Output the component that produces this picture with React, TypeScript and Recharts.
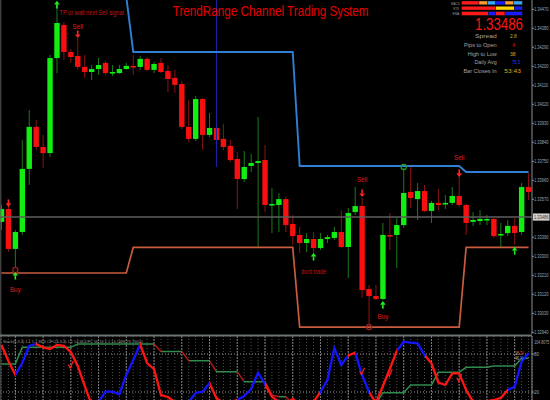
import React from 'react';
import { ComposedChart, Bar, Line, XAxis, YAxis, ReferenceLine, Scatter, CartesianGrid } from 'recharts';

// ---------- price candles (one per bar) ----------
const opens = [1.33463, 1.33524, 1.33335, 1.33415, 1.33714, 1.33913, 1.33818, 1.33789, 1.34239, 1.34396,
  1.34268, 1.34249, 1.34197, 1.34173, 1.34187, 1.34216, 1.34168, 1.34168, 1.34187, 1.34202,
  1.34197, 1.34235, 1.34183, 1.34216, 1.34178, 1.34145, 1.34116, 1.33913, 1.33856, 1.34045,
  1.33875, 1.33908, 1.33856, 1.33823, 1.33761, 1.33666, 1.33728, 1.33742, 1.33756, 1.33543,
  1.33543, 1.33571, 1.33453, 1.33401, 1.33363, 1.33382, 1.33339, 1.33382, 1.33387, 1.33415,
  1.33344, 1.33510, 1.33538, 1.33145, 1.33112, 1.33098, 1.33401, 1.33401, 1.33448, 1.33605,
  1.33571, 1.33609, 1.33515, 1.33553, 1.33548, 1.33553, 1.33586, 1.33543, 1.33463, 1.33467,
  1.33472, 1.33477, 1.33401, 1.33410, 1.33444, 1.33415, 1.33628];
const closes = [1.33524, 1.33335, 1.33415, 1.33714, 1.33913, 1.33818, 1.33789, 1.34239, 1.34405, 1.34268,
  1.34244, 1.34197, 1.34173, 1.34187, 1.34206, 1.34168, 1.34173, 1.34187, 1.34202, 1.34194,
  1.34235, 1.34183, 1.34211, 1.34173, 1.34140, 1.34112, 1.33913, 1.33856, 1.34045, 1.33875,
  1.33908, 1.33851, 1.33818, 1.33756, 1.33666, 1.33723, 1.33742, 1.33751, 1.33543, 1.33548,
  1.33571, 1.33448, 1.33396, 1.33363, 1.33382, 1.33339, 1.33382, 1.33391, 1.33415, 1.33344,
  1.33505, 1.33538, 1.33140, 1.33112, 1.33098, 1.33401, 1.33396, 1.33448, 1.33600, 1.33576,
  1.33609, 1.33515, 1.33553, 1.33543, 1.33553, 1.33586, 1.33543, 1.33458, 1.33472, 1.33477,
  1.33477, 1.33396, 1.33406, 1.33444, 1.33410, 1.33628, 1.33605];
const highs = [1.33543, 1.33543, 1.33425, 1.33851, 1.33993, 1.33946, 1.33875, 1.34254, 1.34505, 1.34410,
  1.34282, 1.34334, 1.34254, 1.34206, 1.34239, 1.34225, 1.34206, 1.34206, 1.34216, 1.34254,
  1.34249, 1.34244, 1.34220, 1.34239, 1.34206, 1.34183, 1.34130, 1.34040, 1.34059, 1.34050,
  1.33979, 1.33922, 1.33927, 1.33851, 1.33794, 1.33799, 1.33785, 1.33960, 1.33827, 1.33624,
  1.33600, 1.33581, 1.33496, 1.33439, 1.33410, 1.33415, 1.33410, 1.33401, 1.33439, 1.33519,
  1.33529, 1.33628, 1.33576, 1.33164, 1.33164, 1.33458, 1.33505, 1.33481, 1.33718, 1.33733,
  1.33647, 1.33638, 1.33562, 1.33619, 1.33590, 1.33628, 1.33695, 1.33548, 1.33510, 1.33519,
  1.33496, 1.33481, 1.33458, 1.33472, 1.33481, 1.33647, 1.33695];
const lows = [1.33425, 1.33320, 1.33245, 1.33401, 1.33638, 1.33804, 1.33718, 1.33770, 1.34168, 1.34230,
  1.34216, 1.34183, 1.34145, 1.34135, 1.34159, 1.34159, 1.34154, 1.34164, 1.34183, 1.34159,
  1.34183, 1.34178, 1.34168, 1.34168, 1.34078, 1.34074, 1.33903, 1.33841, 1.33846, 1.33804,
  1.33865, 1.33837, 1.33804, 1.33747, 1.33524, 1.33652, 1.33699, 1.33339, 1.33510, 1.33410,
  1.33415, 1.33415, 1.33354, 1.33316, 1.33320, 1.33316, 1.33330, 1.33363, 1.33377, 1.33339,
  1.33197, 1.33496, 1.33103, 1.32970, 1.33093, 1.33093, 1.33330, 1.33245, 1.33434, 1.33529,
  1.33472, 1.33510, 1.33458, 1.33519, 1.33524, 1.33543, 1.33534, 1.33401, 1.33444, 1.33448,
  1.33448, 1.33387, 1.33344, 1.33396, 1.33354, 1.33401, 1.33567];

// ---------- TrendRange channel ----------
const upperChannel = [1.34528, 1.34528, 1.34528, 1.34528, 1.34528, 1.34528, 1.34528, 1.34528, 1.34528, 1.34528,
  1.34528, 1.34528, 1.34528, 1.34528, 1.34528, 1.34528, 1.34528, 1.34528, 1.34528, 1.34268,
  1.34268, 1.34268, 1.34268, 1.34268, 1.34268, 1.34268, 1.34268, 1.34268, 1.34268, 1.34268,
  1.34268, 1.34268, 1.34268, 1.34268, 1.34268, 1.34268, 1.34268, 1.34268, 1.34268, 1.34268,
  1.34268, 1.34268, 1.34268, 1.33728, 1.33728, 1.33728, 1.33728, 1.33728, 1.33728, 1.33728,
  1.33728, 1.33728, 1.33728, 1.33728, 1.33728, 1.33728, 1.33728, 1.33728, 1.33728, 1.33728,
  1.33728, 1.33728, 1.33728, 1.33728, 1.33728, 1.33728, 1.33728, 1.33699, 1.33699, 1.33699,
  1.33699, 1.33699, 1.33699, 1.33699, 1.33699, 1.33699, 1.33699];
const lowerChannel = [1.33221, 1.33221, 1.33221, 1.33221, 1.33221, 1.33221, 1.33221, 1.33221, 1.33221, 1.33221,
  1.33221, 1.33221, 1.33221, 1.33221, 1.33221, 1.33221, 1.33221, 1.33221, 1.33221, 1.33342,
  1.33342, 1.33342, 1.33342, 1.33342, 1.33342, 1.33342, 1.33342, 1.33342, 1.33342, 1.33342,
  1.33342, 1.33342, 1.33342, 1.33342, 1.33342, 1.33342, 1.33342, 1.33342, 1.33342, 1.33342,
  1.33342, 1.33342, 1.33342, 1.32965, 1.32965, 1.32965, 1.32965, 1.32965, 1.32965, 1.32965,
  1.32965, 1.32965, 1.32965, 1.32965, 1.32965, 1.32965, 1.32965, 1.32965, 1.32965, 1.32965,
  1.32965, 1.32965, 1.32965, 1.32965, 1.32965, 1.32965, 1.32965, 1.33342, 1.33342, 1.33342,
  1.33342, 1.33342, 1.33342, 1.33342, 1.33342, 1.33342, 1.33342];

const currentPrice = 1.33486;
const separatorIndex = 31;
const separatorTop = 1.34514;
const separatorBottom = 1.33723;
const priceTicks = [1.34470, 1.34380, 1.34290, 1.34200, 1.34110, 1.34020, 1.33930, 1.33840, 1.33750,
  1.33660, 1.33570, 1.33390, 1.33300, 1.33210, 1.33120, 1.33030, 1.32940];

const sellArrows = [{ i: 1, price: 1.33534 }, { i: 11, price: 1.34334 }, { i: 52, price: 1.33581 }, { i: 66, price: 1.33676 }];
const buyArrows = [{ i: 2, price: 1.33226 }, { i: 8, price: 1.34510 }, { i: 45, price: 1.33316 }, { i: 55, price: 1.33088 }, { i: 74, price: 1.33344 }];
const signalRings = [{ i: 2, price: 1.33235, side: 'sell' }, { i: 53, price: 1.32965, side: 'sell' }, { i: 58, price: 1.33723, side: 'buy' }];
const chartNotes = [
  { i: 13, price: 1.34441, text: 'TP or wait next Sell signal', kind: 'note' },
  { i: 11, price: 1.34379, text: 'Sell', kind: 'label' },
  { i: 52, price: 1.33650, text: 'Sell', kind: 'label' },
  { i: 66, price: 1.33754, text: 'Sell', kind: 'label' },
  { i: 2, price: 1.33129, text: 'Buy', kind: 'label' },
  { i: 55, price: 1.33001, text: 'Buy', kind: 'label' },
  { i: 45, price: 1.33214, text: 'dont trade', kind: 'note' },
];

// ---------- Stochastic sub-window ----------
const stochMain = [94.2, 68.9, 47.0, 65.8, 92.6, 95.7, 90.5, 88.0, 94.2, 93.0,
  83.1, 61.0, 29.5, 0.0, 4.3, 20.5, 20.5, 16.5, 47.0, 70.5,
  95.0, 65.8, 56.0, 15.3, 12.1, 4.3, 0.0, 4.3, 18.5, 20.5,
  33.8, 10.1, 2.7, 4.3, 7.4, 13.7, 24.8, 50.5, 32.6, 12.6,
  4.3, 1.1, 9.0, 1.1, 0.0, 4.3, 20.0, 39.0, 89.0, 62.6,
  77.6, 82.0, 46.8, 20.0, 2.7, 29.5, 56.3, 84.7, 99.4, 97.8,
  96.8, 78.4, 65.3, 35.0, 31.1, 49.5, 49.5, 23.2, 4.7, 1.1,
  5.8, 7.4, 10.6, 23.2, 28.4, 67.8, 81.5];
const stochSignal = [64.2, 64.2, 64.2, 90.5, 90.5, 90.5, 90.5, 90.5, 90.5, 90.5,
  90.5, 95.7, 95.7, 95.7, 95.7, 95.7, 95.7, 95.7, 95.7, 95.7,
  95.7, 95.7, 95.7, 84.0, 84.0, 84.0, 84.0, 69.4, 69.4, 69.4,
  69.4, 52.1, 52.1, 52.1, 52.1, 36.3, 36.3, 36.3, 36.3, 15.3,
  12.6, 12.6, 1.1, 1.1, 1.1, 1.1, 1.1, 1.1, 1.1, 1.1,
  1.1, 1.1, 1.1, 1.1, 1.1, 18.9, 18.9, 18.9, 18.9, 31.1,
  31.1, 31.1, 31.1, 51.1, 51.1, 51.1, 51.1, 59.0, 59.0, 59.0,
  59.0, 61.0, 61.0, 61.0, 61.0, 73.2, 73.2];
// colour of each main-line segment as drawn: u = blue, d = red
const stochMainTrend = 'dduuudddddddduuuuuuudddddduuuudddduuuudddddddduuuuduudddduuuudddddddddddduuuuuuu';
const stochLevels = [80, 20];
const stochMajorGrid = [2, 6, 10, 14, 18, 22, 26, 30, 34, 38, 42, 46, 50, 54, 58, 62, 66, 70, 74];
const stochChecks = [{ i: 10, v: 62.6 }, { i: 52, v: 52.1 }, { i: 56, v: 49.5 }, { i: 66, v: 41.6 }];

const candleIdx = opens.map((_, i) => i);
const candleData = opens.map((o, i) => ({
  i, open: o, close: closes[i], high: highs[i], low: lows[i],
  range: [lows[i], highs[i]], upper: upperChannel[i], lower: lowerChannel[i],
}));
const stochData = stochMain.map((v, i) => ({ i, main: v, signal: stochSignal[i] }));

const FONT = "'Liberation Sans', Arial, sans-serif";
const SX = 0.78;
const AXIS_GRAY = '#8c8c8c';
const LABEL_GRAY = '#a4a4a4';

// Arial / Liberation Sans advance widths (per 1000 em) for width fitting
const CW: Record<string, number> = {
  ' ': 278, '.': 278, ',': 278, ':': 278, '-': 333, '(': 333, ')': 333,
  A: 667, B: 667, C: 722, D: 722, E: 667, F: 611, H: 722, I: 278, L: 556, M: 833, O: 778, P: 667, R: 722, S: 667, T: 611,
  a: 556, c: 500, d: 556, e: 556, g: 556, h: 556, i: 222, k: 500, l: 222, m: 833, n: 556, o: 556, p: 556,
  r: 333, s: 500, t: 278, u: 556, v: 500, w: 722, x: 500, y: 500,
};
const natWidth = (s: string, size: number) => {
  let w = 0;
  for (const ch of s) w += CW[ch] ?? 556;
  return (w / 1000) * size;
};

const Sq = ({ x, y, size, width, fill, anchor = 'start', text }: any) => (
  <text transform={`translate(${x},${y}) scale(${(width / natWidth(text, size)).toFixed(3)},1)`}
    fontSize={size} fill={fill} textAnchor={anchor} fontFamily={FONT}>{text}</text>
);

const Candle = (props: any) => {
  const { x, y, width, height, payload } = props;
  if (x == null || payload == null || isNaN(y)) return null;
  const top = Math.min(y, y + height);
  const h = Math.abs(height);
  const span = payload.high - payload.low || 1e-9;
  const py = (v: number) => top + ((payload.high - v) / span) * h;
  const cx = x + width / 2;
  const bull = payload.close >= payload.open;
  const yo = py(payload.open);
  const yc = py(payload.close);
  const bt = Math.min(yo, yc);
  const bh = Math.max(1.6, Math.abs(yc - yo));
  return (
    <g>
      <line x1={cx} x2={cx} y1={top} y2={top + h} stroke={bull ? '#1c7a1c' : '#8c1414'} strokeWidth={1} />
      <rect x={cx - 2.7} y={bt} width={5.4} height={bh} fill={bull ? '#12ee12' : '#f81010'} />
    </g>
  );
};

const SellArrow = (props: any) => {
  const { cx, cy } = props;
  if (cx == null) return null;
  return (
    <g fill="#ff2424">
      <rect x={cx - 0.8} y={cy - 7.5} width={1.6} height={4.2} />
      <path d={`M${cx - 2.8},${cy - 3.6} L${cx + 2.8},${cy - 3.6} L${cx},${cy} Z`} />
    </g>
  );
};

const BuyArrow = (props: any) => {
  const { cx, cy } = props;
  if (cx == null) return null;
  return (
    <g fill="#22f022">
      <path d={`M${cx - 2.8},${cy + 3.6} L${cx + 2.8},${cy + 3.6} L${cx},${cy} Z`} />
      <rect x={cx - 0.8} y={cy + 3.4} width={1.6} height={4.2} />
    </g>
  );
};

const Ring = (props: any) => {
  const { cx, cy, payload } = props;
  if (cx == null) return null;
  return <circle cx={cx} cy={cy} r={2.6} fill="none" stroke={payload.side === 'buy' ? '#1fa01f' : '#a01c1c'} strokeWidth={1.2} />;
};

const Note = (props: any) => {
  const { cx, cy, payload } = props;
  if (cx == null) return null;
  const size = payload.kind === 'label' ? 8 : 7.2;
  return (
    <text transform={`translate(${cx},${cy}) scale(${SX},1)`} textAnchor="middle" fontSize={size}
      fontFamily={FONT} fill={payload.kind === 'label' ? '#e01a1a' : '#c41414'}>{payload.text}</text>
  );
};

const CheckMark = (props: any) => {
  const { cx, cy } = props;
  if (cx == null) return null;
  return <path d={`M${cx - 2.4},${cy - 0.5} L${cx - 0.6},${cy + 3} L${cx + 2.4},${cy - 4}`} fill="none" stroke="#ff2020" strokeWidth={1.2} />;
};

const PriceTick = (props: any) => {
  const { x, y, payload } = props;
  const s = Number(payload.value).toFixed(5);
  return <Sq x={x} y={y + 1.8} size={5.4} width={14.4} fill={LABEL_GRAY} text={s} />;
};

const StochTick = (props: any) => {
  const { x, y, payload } = props;
  return <Sq x={x} y={y + 1.8} size={5.4} width={5} fill={LABEL_GRAY} text={String(payload.value)} />;
};

const CurrentPriceLabel = (props: any) => {
  const vb = props.viewBox || {};
  const x0 = vb.x + vb.width + 1;
  const y0 = vb.y;
  return (
    <g>
      <rect x={x0} y={y0 - 3.6} width={16.5} height={7.2} fill="#cfcfcf" />
      <Sq x={x0 + 1} y={y0 + 1.9} size={5.4} width={14.4} fill="#3a3a3a" text={currentPrice.toFixed(5)} />
    </g>
  );
};

const lastSeg = stochMain.length - 1;
const mainStops = stochMainTrend.split('').flatMap((c, k) => {
  const col = c === 'u' ? '#1414ff' : '#ff1414';
  return [
    <stop key={`a${k}`} offset={k / lastSeg} stopColor={col} />,
    <stop key={`b${k}`} offset={(k + 1) / lastSeg} stopColor={col} />,
  ];
});
const signalStops = stochSignal.slice(0, -1).flatMap((v, k) => {
  const col = stochSignal[k + 1] < v ? '#b01818' : '#2f8a4c';
  return [
    <stop key={`a${k}`} offset={k / lastSeg} stopColor={col} />,
    <stop key={`b${k}`} offset={(k + 1) / lastSeg} stopColor={col} />,
  ];
});

const bar = (x: number, y: number, w: number, h: number, c: string, k: string) => (
  <rect key={k} x={x} y={y} width={w} height={h} fill={c} stroke="#151515" strokeWidth={0.4} />
);

export default function App() {
  return (
    <div style={{ position: 'absolute', left: 0, top: 0, width: 550, height: 400, background: '#000', overflow: 'hidden' }}>
      <div style={{ position: 'absolute', left: -2, top: 0 }}>
        <ComposedChart width={552} height={334} data={candleData} margin={{ top: 0, right: 0, bottom: 0, left: 0 }}>
          <XAxis dataKey="i" type="number" domain={[-0.5, 76.5]} ticks={candleIdx} hide />
          <YAxis orientation="right" width={18} domain={[1.32932, 1.34514]} allowDataOverflow ticks={priceTicks}
            interval={0} tick={<PriceTick />} tickSize={2} tickMargin={0}
            axisLine={{ stroke: AXIS_GRAY }} tickLine={{ stroke: AXIS_GRAY }} />
          <ReferenceLine y={currentPrice} stroke="#5e5e5e" strokeWidth={1.6} label={<CurrentPriceLabel />} />
          <ReferenceLine segment={[{ x: separatorIndex, y: separatorTop }, { x: separatorIndex, y: separatorBottom }]}
            stroke="#2020a8" strokeWidth={1} />
          <Line dataKey="upper" type="linear" stroke="#2f7fd4" strokeWidth={1.9} dot={false} activeDot={false} isAnimationActive={false} />
          <Line dataKey="lower" type="linear" stroke="#c95c3e" strokeWidth={1.7} dot={false} activeDot={false} isAnimationActive={false} />
          <Bar dataKey="range" barSize={5} shape={Candle} isAnimationActive={false} />
          <Scatter data={signalRings} dataKey="price" shape={Ring} isAnimationActive={false} />
          <Scatter data={sellArrows} dataKey="price" shape={SellArrow} isAnimationActive={false} />
          <Scatter data={buyArrows} dataKey="price" shape={BuyArrow} isAnimationActive={false} />
          <Scatter data={chartNotes} dataKey="price" shape={Note} isAnimationActive={false} />
        </ComposedChart>
      </div>

      <div style={{ position: 'absolute', left: -2, top: 336 }}>
        <ComposedChart width={552} height={65} data={stochData} margin={{ top: 0, right: 0, bottom: 0, left: 0 }}>
          <defs>
            <linearGradient id="stochMainGrad" x1="0" y1="0" x2="1" y2="0">{mainStops}</linearGradient>
            <linearGradient id="stochSignalGrad" x1="0" y1="0" x2="1" y2="0">{signalStops}</linearGradient>
          </defs>
          <CartesianGrid vertical horizontal={false} stroke="#505050" strokeDasharray="1 2" />
          <XAxis dataKey="i" type="number" domain={[-0.5, 76.5]} ticks={candleIdx} interval={0} hide />
          <YAxis orientation="right" width={18} domain={[5.8, 108.4]} allowDataOverflow ticks={stochLevels}
            interval={0} tick={<StochTick />} tickSize={2} tickMargin={0}
            axisLine={{ stroke: AXIS_GRAY }} tickLine={{ stroke: AXIS_GRAY }} />
          {stochMajorGrid.map((g) => (
            <ReferenceLine key={`g${g}`} x={g} stroke="#7c7c7c" strokeDasharray="2 1" />
          ))}
          {stochLevels.map((lv) => (
            <ReferenceLine key={lv} y={lv} stroke="#9a9a9a" strokeDasharray="1 2" />
          ))}
          <Line dataKey="signal" type="linear" stroke="url(#stochSignalGrad)" strokeWidth={1.5} dot={false} activeDot={false} isAnimationActive={false} />
          <Line dataKey="main" type="linear" stroke="url(#stochMainGrad)" strokeWidth={2.3} dot={false} activeDot={false} isAnimationActive={false} />
          <Scatter data={stochChecks} dataKey="v" shape={CheckMark} isAnimationActive={false} />
        </ComposedChart>
      </div>

      <svg width={550} height={400} style={{ position: 'absolute', left: 0, top: 0, pointerEvents: 'none' }} fontFamily={FONT}>
        <line x1={0.8} x2={0.8} y1={0} y2={400} stroke="#5a5a5a" strokeWidth={1} />
        <Sq x={172.7} y={16} size={15} width={197} fill="#e40000" text="TrendRange Channel Trading System" />

        <Sq x={451} y={4.6} size={3.6} width={9} fill="#9a9a9a" text="MACD" />
        <Sq x={453} y={9.6} size={3.6} width={6} fill="#9a9a9a" text="STR" />
        <Sq x={452.5} y={15} size={3.6} width={7} fill="#9a9a9a" text="EMA" />
        {bar(461.7, 1, 17.3, 3.8, '#ff1a1a', 'm1')}
        {bar(479, 1, 8.7, 3.8, '#ff9a30', 'm2')}
        {bar(487.7, 1, 8, 3.8, '#35a8ff', 'm3')}
        {bar(495.7, 1, 9.3, 3.8, '#1a1aff', 'm4')}
        {bar(505, 1, 8.3, 3.8, '#ff9a30', 'm5')}
        {bar(513.3, 1, 9, 3.8, '#35a8ff', 'm6')}
        {bar(461.7, 6.2, 34, 3.8, '#ff1a1a', 's1')}
        {bar(495.7, 6.2, 18.6, 3.8, '#ffd500', 's2')}
        {bar(514.3, 6.2, 8, 3.8, '#1a1aff', 's3')}
        {bar(461.7, 11.6, 26.6, 3.8, '#ff1a1a', 'e1')}
        {bar(488.3, 11.6, 7.4, 3.8, '#1a1aff', 'e2')}
        {bar(495.7, 11.6, 9.3, 3.8, '#ff1a1a', 'e3')}
        {bar(505, 11.6, 17.3, 3.8, '#1a1aff', 'e4')}

        <Sq x={475} y={29.6} size={16} width={48} fill="#ff1414" text="1.33486" />

        <Sq x={496.7} y={38.4} size={6.2} width={21.7} fill={LABEL_GRAY} anchor="end" text="Spread" />
        <Sq x={496.7} y={46.9} size={6.2} width={32.7} fill={LABEL_GRAY} anchor="end" text="Pips to Open" />
        <Sq x={496.7} y={55.6} size={6.2} width={29} fill={LABEL_GRAY} anchor="end" text="High to Low" />
        <Sq x={496.7} y={64.4} size={6.2} width={22.7} fill={LABEL_GRAY} anchor="end" text="Daily Avg" />
        <Sq x={496.7} y={73.2} size={6.2} width={33.4} fill={LABEL_GRAY} anchor="end" text="Bar Closes In" />
        <Sq x={510} y={38.4} size={6.2} width={6.7} fill="#d4b020" text="2.8" />
        <Sq x={511.7} y={46.9} size={6.2} width={3.6} fill="#f01a1a" text="-8" />
        <Sq x={510} y={55.6} size={6.2} width={5.7} fill="#d4b020" text="38" />
        <Sq x={512} y={64.4} size={6.2} width={8} fill="#2a3cff" text="75.5" />
        <Sq x={504.3} y={73.2} size={6.2} width={16.7} fill="#d4b020" text="53:43" />

        <line x1={0} x2={532} y1={335.4} y2={335.4} stroke="#6c7474" strokeWidth={2} />
        <Sq x={3} y={343} size={4.4} width={140} fill="#9a9a9a"
          text="Stoch(5,3,3) 1.1 1.1 86.5 CFC(5,3,3) 1.1 14.66 DFC 56.16 1.1 14.1688 76.76000" />
        <Sq x={534.3} y={343.8} size={5.4} width={15} fill={LABEL_GRAY} text="104.8075" />
        <text transform="translate(515,354.6) scale(0.62,1)" fontSize={5.6} fill="#bdbdbd" fontFamily={FONT}>16.<tspan fill="#ff2424">24</tspan></text>
        <text transform="translate(515,360.4) scale(0.62,1)" fontSize={5.6} fill="#bdbdbd" fontFamily={FONT}>46.<tspan fill="#3a5aff">70</tspan></text>
      </svg>
    </div>
  );
}
